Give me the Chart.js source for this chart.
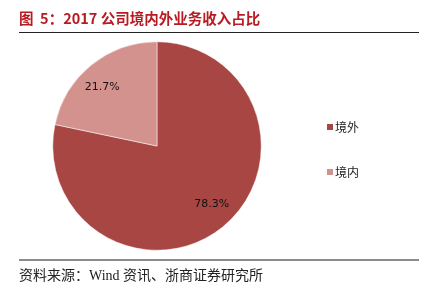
<!DOCTYPE html>
<html>
<head>
<meta charset="utf-8">
<script src="https://cdn.jsdelivr.net/npm/chart.js@4/dist/chart.umd.min.js"></script>
<style>
  html, body { margin: 0; padding: 0; background: #fff; }
  #wrap { position: relative; width: 431px; height: 291px; overflow: hidden; }
  #title {
    position: absolute; left: 19px; top: 7px;
    font: bold 14.5px "Noto Sans CJK SC", "Liberation Sans", sans-serif;
    color: #b81c22; white-space: nowrap;
  }
  #topLine { position: absolute; left: 19px; top: 32px; width: 400px; height: 1px; background: #222; }
  #botLine { position: absolute; left: 19px; top: 259px; width: 400px; height: 2px; background: #8c8c8c; }
  #source {
    position: absolute; left: 19px; top: 264px;
    font: 14px "Liberation Serif", "Noto Sans CJK SC", serif;
    color: #222; white-space: nowrap;
  }
  canvas { position: absolute; left: 0; top: 0; }
</style>
</head>
<body>
<div id="wrap">
  <canvas id="pieChart" width="431" height="291"></canvas>
  <div id="title">图&nbsp; 5：2017 公司境内外业务收入占比</div>
  <div id="topLine"></div>
  <div id="botLine"></div>
  <div id="source">资料来源：Wind 资讯、浙商证券研究所</div>
</div>
<script>
// 数据
const categorias = ['境外', '境内'];
const valores = [78.3, 21.7];
const etiquetas = ['78.3%', '21.7%'];
const colores = ['#a84644', '#d4928f'];

// etiquetas de porcentaje y leyenda a la derecha
const textoPlugin = {
    id: 'textoPlugin',
    afterDatasetsDraw(chart) {
        const ctx = chart.ctx;
        const meta = chart.getDatasetMeta(0);
        ctx.save();
        ctx.fillStyle = '#111';
        ctx.font = '11px "DejaVu Sans", sans-serif';
        ctx.textAlign = 'center';
        ctx.textBaseline = 'middle';
        meta.data.forEach((arc, i) => {
            // Excel coloca la etiqueta algo más cerca del eje horizontal
            const mid = (arc.startAngle + arc.endAngle) / 2 - 0.07;
            const r = arc.outerRadius * 0.77;
            ctx.fillText(etiquetas[i], arc.x + Math.cos(mid) * r, arc.y + Math.sin(mid) * r);
        });
        // leyenda
        ctx.textAlign = 'left';
        ctx.font = '12px "Noto Sans CJK SC", sans-serif';
        categorias.forEach((c, i) => {
            const y = 127 + i * 45;
            ctx.fillStyle = colores[i];
            ctx.fillRect(327, y - 3, 6, 6);
            ctx.fillStyle = '#222';
            ctx.fillText(c, 335, y);
        });
        ctx.restore();
    }
};

const ctx = document.getElementById('pieChart').getContext('2d');
new Chart(ctx, {
    type: 'pie',
    data: {
        labels: categorias,
        datasets: [{
            data: valores,
            backgroundColor: colores,
            borderColor: '#ffffff',
            borderWidth: 0.5
        }]
    },
    options: {
        responsive: false,
        animation: false,
        layout: { padding: { left: 52.5, right: 169.5, top: 41.5, bottom: 40.5 } },
        plugins: {
            legend: { display: false },
            tooltip: { enabled: false }
        }
    },
    plugins: [textoPlugin]
});
</script>
</body>
</html>
